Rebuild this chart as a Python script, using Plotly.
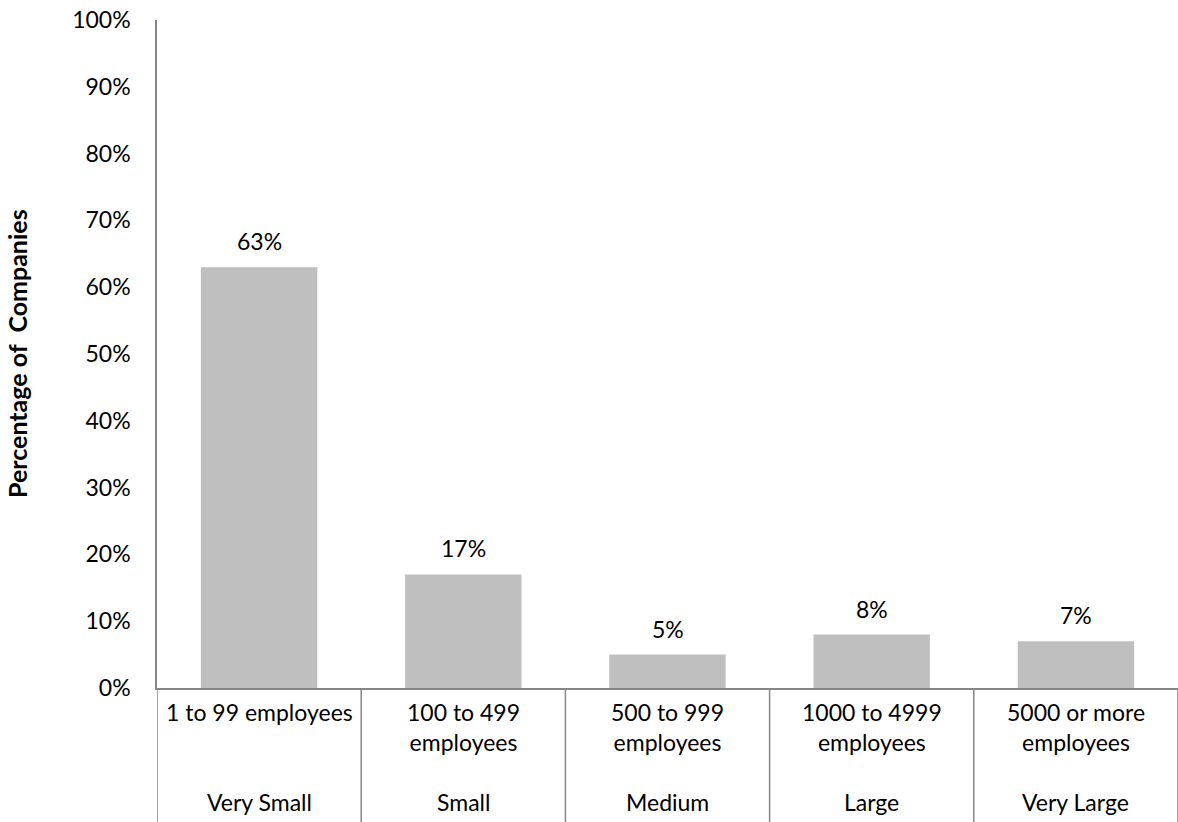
import plotly.graph_objects as go

# Company size breakdown
size_groups = ["Very Small", "Small", "Medium", "Large", "Very Large"]
employee_ranges = ["1 to 99 employees", "100 to 499<br>employees", "500 to 999<br>employees",
                   "1000 to 4999<br>employees", "5000 or more<br>employees"]
pct_companies = [63, 17, 5, 8, 7]
y_ticks = list(range(0, 101, 10))
y_tick_labels = [f"{v}%" for v in y_ticks]

FONT = "Lato"
TXT = "#000000"
AXIS = "#868686"
BAR = "#BFBFBF"
FS = 23

W, H = 1178, 822
L, R, T, B = 157, 0, 20, 134
PLOT_H = H - T - B


def paper_y(px):
    """Convert a pixel row to paper coordinates of the plot area."""
    return (H - B - px) / PLOT_H


xs = list(range(len(pct_companies)))

fig = go.Figure(go.Bar(
    x=xs, y=pct_companies, marker=dict(color=BAR, line=dict(width=0)),
    hoverinfo="skip",
))

annotations = []
for i, v in enumerate(pct_companies):
    # value label above each bar
    annotations.append(dict(x=i, y=v, xref="x", yref="y", text=f"{v}%", showarrow=False,
                            yanchor="bottom", yshift=10,
                            font=dict(family=FONT, size=FS, color=TXT)))
    # first category level: employee range
    annotations.append(dict(x=i, y=paper_y(696), xref="x", yref="paper", text=employee_ranges[i],
                            showarrow=False, yanchor="top",
                            font=dict(family=FONT, size=FS, color=TXT)))
    # second category level: size group
    annotations.append(dict(x=i, y=paper_y(802), xref="x", yref="paper", text=size_groups[i],
                            showarrow=False, yanchor="middle",
                            font=dict(family=FONT, size=FS, color=TXT)))

annotations.append(dict(x=0, y=0.5, xref="paper", yref="paper",
                        text="<b>Percentage of  Companies</b>", showarrow=False, textangle=-90,
                        xanchor="center", yanchor="middle", xshift=-(L - 17),
                        font=dict(family=FONT, size=25, color=TXT)))

# category dividers running down through the label rows
shapes = []
for b in [i - 0.5 for i in range(len(pct_companies) + 1)]:
    shapes.append(dict(type="line", xref="x", yref="paper", x0=b, x1=b, y0=0, y1=paper_y(H),
                       line=dict(color=AXIS, width=1.5)))

fig.update_layout(
    width=W, height=H,
    margin=dict(l=L, r=R, t=T, b=B, pad=0),
    paper_bgcolor="white", plot_bgcolor="white",
    showlegend=False, bargap=0.43,
    xaxis=dict(range=[-0.5, len(pct_companies) - 0.5], showticklabels=False, showgrid=False,
               zeroline=False, showline=True, linecolor=AXIS, linewidth=1.5, ticks=""),
    yaxis=dict(range=[0, 100], tickvals=y_ticks, ticktext=y_tick_labels, showgrid=False,
               zeroline=False, showline=True, linecolor=AXIS, linewidth=1.5, ticks="",
               ticklabelstandoff=20, tickfont=dict(family=FONT, size=FS, color=TXT)),
    annotations=annotations, shapes=shapes,
)

fig.write_html("out.html")
